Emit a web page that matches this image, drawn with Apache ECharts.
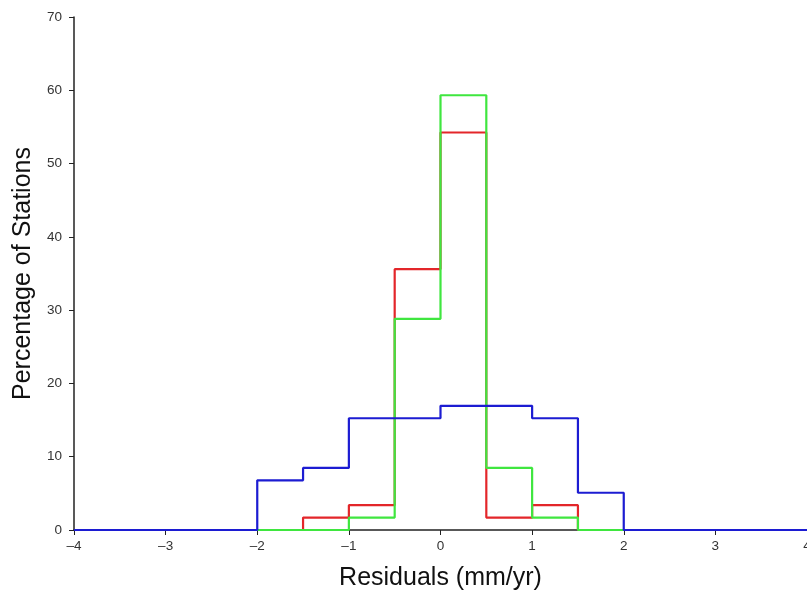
<!DOCTYPE html>
<html>
<head>
<meta charset="utf-8">
<script src="https://cdn.jsdelivr.net/npm/echarts@6/dist/echarts.min.js"></script>
<style>
html,body{margin:0;padding:0;background:#fff;}
#chart{width:807px;height:595px;}
</style>
</head>
<body>
<div id="chart"></div>
<script>
// Bin left edges (width 0.5) from -4 to 3.5, final edge 4
const binEdges = [-4,-3.5,-3,-2.5,-2,-1.5,-1,-0.5,0,0.5,1,1.5,2,2.5,3,3.5,4];
// Percentage of stations per bin
const redValues   = [0,0,0,0,0,1.69,3.39,35.59,54.24,1.69,3.39,0,0,0,0,0];
const greenValues = [0,0,0,0,0,0,1.69,28.81,59.32,8.47,1.69,0,0,0,0,0];
const blueValues  = [0,0,0,0,6.78,8.47,15.25,15.25,16.95,16.95,15.25,5.08,0,0,0,0];
const xTicks = [-4,-3,-2,-1,0,1,2,3,4];
const yTicks = [0,10,20,30,40,50,60,70];

function stepData(vals){
  const d = vals.map((v,i)=>[binEdges[i], v]);
  d.push([binEdges[binEdges.length-1], 0]);
  return d;
}

const chart = echarts.init(document.getElementById('chart'));
const font = 'Liberation Sans, Arial, Helvetica, sans-serif';
function mkSeries(name, vals, color){
  return {
    name, type:'line', step:'end', data: stepData(vals),
    symbol:'none', animation:false,
    lineStyle:{color, width:2.2}
  };
}
chart.setOption({
  backgroundColor:'#fff',
  animation:false,
  grid:{left:74, right:0, top:17, bottom:65, containLabel:false, outerBoundsMode:'none'},
  xAxis:{
    type:'value', min:-4, max:4, interval:1,
    name:'Residuals (mm/yr)', nameLocation:'middle', nameGap:36,
    nameTextStyle:{fontFamily:font, fontSize:25, color:'#111'},
    axisLine:{show:true, onZero:false, lineStyle:{color:'#222', width:1.5}},
    axisTick:{show:true, inside:false, length:5, lineStyle:{color:'#222'}},
    axisLabel:{fontFamily:font, fontSize:13.5, color:'#333', margin:9,
      formatter:v=>String(v).replace('-','\u2013')},
    splitLine:{show:false}
  },
  yAxis:{
    type:'value', min:0, max:70, interval:10,
    name:'Percentage of Stations', nameLocation:'middle', nameGap:38, nameMoveOverlap:false,
    nameTextStyle:{fontFamily:font, fontSize:25, color:'#111'},
    axisLine:{show:true, onZero:false, lineStyle:{color:'#222', width:1.5}},
    axisTick:{show:true, inside:false, length:5, lineStyle:{color:'#222'}},
    axisLabel:{fontFamily:font, fontSize:13.5, color:'#333', margin:12},
    splitLine:{show:false}
  },
  series:[
    mkSeries('red', redValues, '#e3262a'),
    mkSeries('green', greenValues, '#3fe63f'),
    mkSeries('blue', blueValues, '#1c1cd2')
  ]
});
</script>
</body>
</html>
